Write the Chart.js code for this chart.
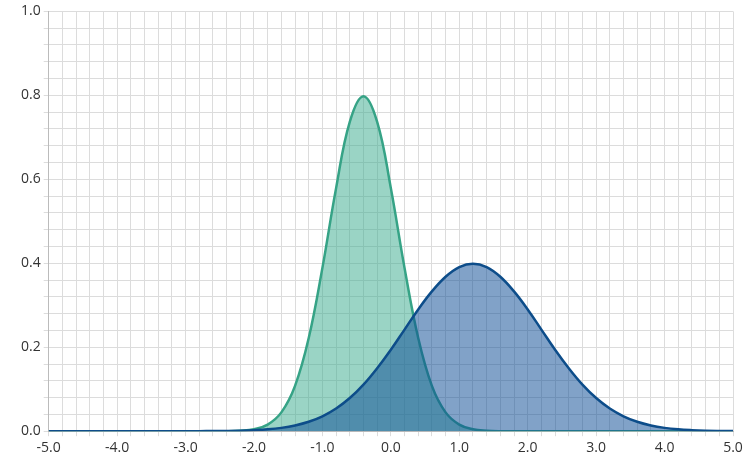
<!DOCTYPE html>
<html>
<head>
<meta charset="utf-8">
<script src="https://cdn.jsdelivr.net/npm/chart.js@4"></script>
<style>
  html, body { margin: 0; padding: 0; background: #fff; }
  #wrap { width: 751px; height: 469px; }
</style>
</head>
<body>
<div id="wrap"><canvas id="chart"></canvas></div>
<script>
// x positions (step 0.2) and densities
const xValues = [];
for (let i = 0; i <= 50; i++) xValues.push(+(-5 + i * 0.2).toFixed(1));

const greenValues = [
  0, 0, 0, 0, 0, 0, 0, 0, 0, 0,
  0, 0, 0, 0, 0.0012, 0.0048, 0.0158, 0.0448, 0.108, 0.222,
  0.389, 0.579, 0.737, 0.798, 0.737, 0.579, 0.389, 0.222, 0.108, 0.0448,
  0.0158, 0.0048, 0.0012, 0, 0, 0, 0, 0, 0, 0,
  0, 0, 0, 0, 0, 0, 0, 0, 0, 0, 0
];
const blueValues = [
  0, 0, 0, 0, 0, 0, 0, 0, 0, 0,
  0, 0.0001, 0.0003, 0.0006, 0.0012, 0.0024, 0.0044, 0.0079, 0.0136, 0.0224,
  0.0355, 0.054, 0.079, 0.111, 0.150, 0.194, 0.242, 0.290, 0.333, 0.368,
  0.391, 0.399, 0.391, 0.368, 0.333, 0.290, 0.242, 0.194, 0.150, 0.111,
  0.079, 0.054, 0.0355, 0.0224, 0.0136, 0.0079, 0.0044, 0.0024, 0.0012, 0.0006, 0.0003
];

const toPoints = arr => arr.map((y, i) => ({ x: xValues[i], y }));

new Chart(document.getElementById('chart'), {
  type: 'line',
  data: {
    datasets: [
      {
        data: toPoints(blueValues),
        borderColor: '#0d4d8a',
        backgroundColor: 'rgba(13,77,150,0.52)',
        borderWidth: 2.5, fill: 'origin', pointRadius: 0, tension: 0.4
      },
      {
        data: toPoints(greenValues),
        borderColor: '#36a386',
        backgroundColor: 'rgba(54,170,140,0.5)',
        borderWidth: 2.5, fill: 'origin', pointRadius: 0, tension: 0.4
      }
    ]
  },
  options: {
    responsive: true,
    maintainAspectRatio: false,
    animation: false,
    layout: { padding: { top: 8, right: 18, left: 18, bottom: 10 } },
    plugins: { legend: { display: false }, tooltip: { enabled: false } },
    scales: {
      x: {
        type: 'linear', min: -5, max: 5,
        ticks: {
          stepSize: 0.2, autoSkip: false, maxRotation: 0,
          color: '#333', font: { family: 'Open Sans', size: 14 },
          callback: v => Math.abs(v - Math.round(v)) < 1e-6 ? v.toFixed(1) : ''
        },
        grid: { color: '#dcdcdc', drawTicks: true, tickLength: 5 },
        border: { color: '#bbb' }
      },
      y: {
        min: 0, max: 1,
        ticks: {
          stepSize: 0.04, autoSkip: false,
          color: '#333', font: { family: 'Open Sans', size: 14 },
          callback: v => Math.abs(v * 5 - Math.round(v * 5)) < 1e-6 ? v.toFixed(1) : ''
        },
        grid: { color: '#dcdcdc', tickLength: 5 },
        border: { color: '#bbb' }
      }
    }
  }
});
</script>
</body>
</html>
